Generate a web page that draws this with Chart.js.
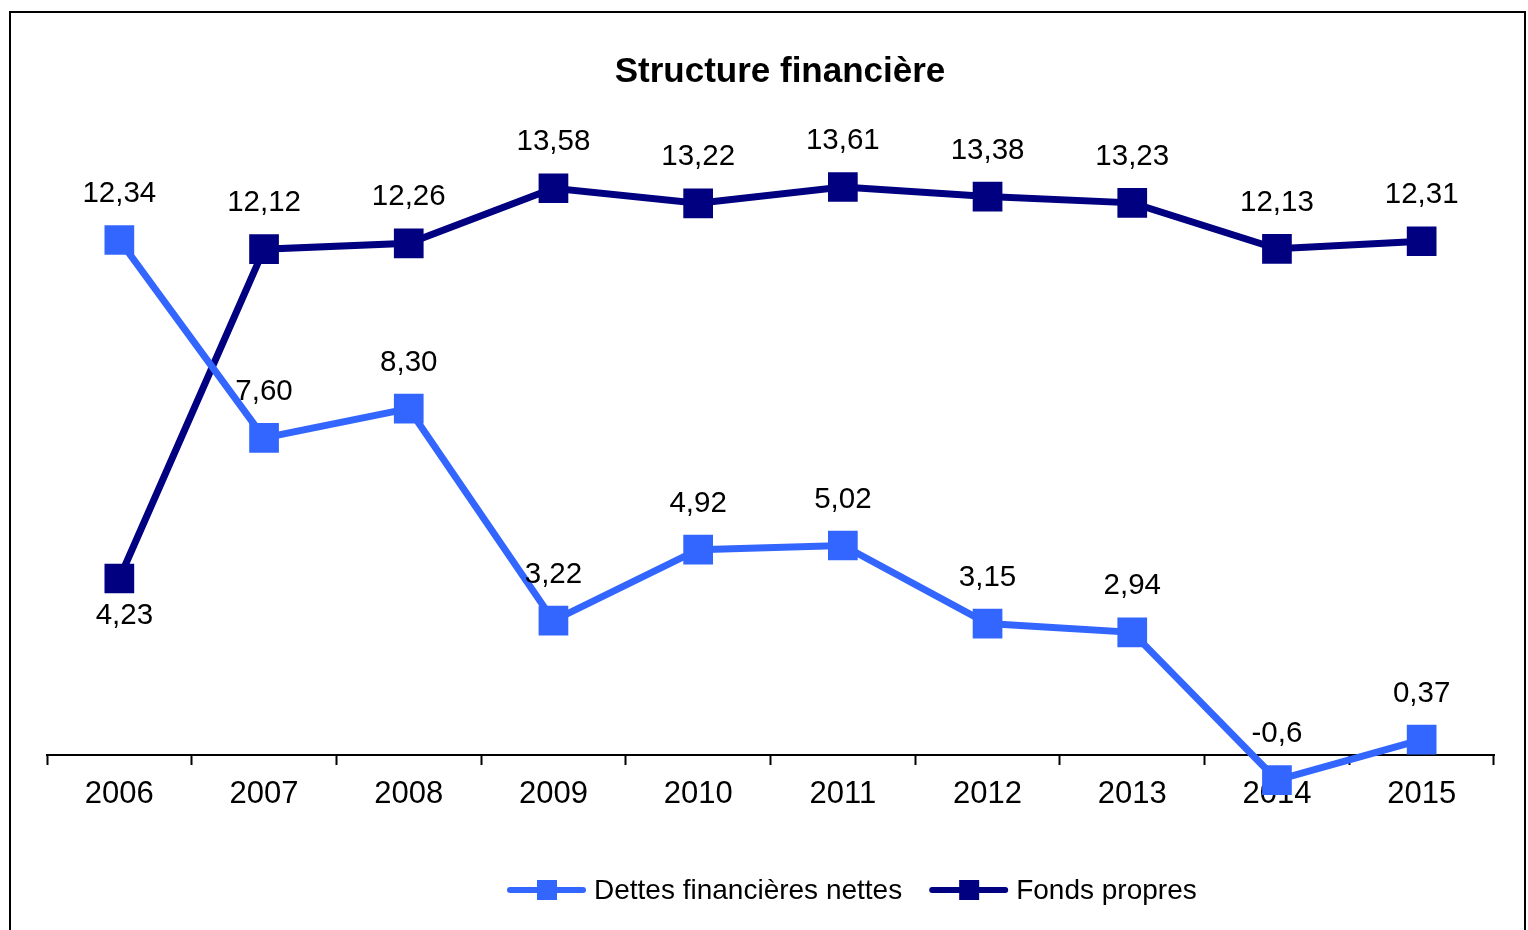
<!DOCTYPE html>
<html>
<head>
<meta charset="utf-8">
<script src="https://cdn.jsdelivr.net/npm/chart.js@4"></script>
<style>
  html, body { margin: 0; padding: 0; background: #fff; overflow: hidden; }
  #wrap { width: 1528px; height: 930px; }
</style>
</head>
<body>
<div id="wrap"><canvas id="chart" width="1528" height="930"></canvas></div>
<script>
const years = ['2006', '2007', '2008', '2009', '2010', '2011', '2012', '2013', '2014', '2015'];
const dettes = [12.34, 7.60, 8.30, 3.22, 4.92, 5.02, 3.15, 2.94, -0.6, 0.37];
const dettesLabels = ['12,34', '7,60', '8,30', '3,22', '4,92', '5,02', '3,15', '2,94', '-0,6', '0,37'];
const fonds = [4.23, 12.12, 12.26, 13.58, 13.22, 13.61, 13.38, 13.23, 12.13, 12.31];
const fondsLabels = ['4,23', '12,12', '12,26', '13,58', '13,22', '13,61', '13,38', '13,23', '12,13', '12,31'];

const FONT = '"Liberation Sans", Arial, Helvetica, sans-serif';
const LIGHT = '#3366FF';
const DARK = '#000080';

// data labels above the points (4,23 sits below)
const valueLabels = {
  id: 'valueLabels',
  afterDatasetsDraw(chart) {
    const ctx = chart.ctx;
    ctx.save();
    ctx.font = '29.5px ' + FONT;
    ctx.fillStyle = '#000';
    ctx.textAlign = 'center';
    ctx.textBaseline = 'middle';
    chart.data.datasets.forEach((ds, i) => {
      const meta = chart.getDatasetMeta(i);
      meta.data.forEach((pt, j) => {
        const below = ds.labelBelow && ds.labelBelow[j];
        const dx = below ? 5 : 0;
        const dy = below ? 37 : -46;
        ctx.fillText(ds.valueText[j], pt.x + dx, pt.y + dy);
      });
    });
    ctx.restore();
  }
};

// frame, title and the Excel style legend (line + square)
const decor = {
  id: 'decor',
  beforeDraw(chart) {
    const ctx = chart.ctx;
    ctx.save();
    ctx.strokeStyle = '#000';
    ctx.lineWidth = 2;
    ctx.strokeRect(10, 12, 1515, 940);
    ctx.restore();
  },
  afterDraw(chart) {
    const ctx = chart.ctx;
    ctx.save();
    ctx.fillStyle = '#000';
    ctx.textAlign = 'center';
    ctx.textBaseline = 'middle';
    ctx.font = 'bold 35px ' + FONT;
    ctx.fillText('Structure financière', 780, 72);

    ctx.font = '28px ' + FONT;
    ctx.textAlign = 'left';
    let x = 507;
    const y = 890;
    chart.data.datasets.forEach((ds) => {
      ctx.strokeStyle = ds.borderColor;
      ctx.lineWidth = 6;
      ctx.lineCap = 'round';
      ctx.beginPath();
      ctx.moveTo(x + 3, y);
      ctx.lineTo(x + 76, y);
      ctx.stroke();
      ctx.fillStyle = ds.borderColor;
      ctx.fillRect(x + 30, y - 10, 20, 20);
      ctx.fillStyle = '#000';
      ctx.fillText(ds.label, x + 87, y + 1);
      x += 87 + ctx.measureText(ds.label).width + 27;
    });
    ctx.restore();
  }
};

new Chart(document.getElementById('chart'), {
  type: 'line',
  data: {
    labels: years,
    datasets: [
      {
        label: 'Dettes financières nettes',
        data: dettes,
        valueText: dettesLabels,
        borderColor: LIGHT,
        backgroundColor: LIGHT,
        borderWidth: 7,
        pointStyle: 'rect',
        pointRadius: 21,
        pointBorderWidth: 0,
        tension: 0
      },
      {
        label: 'Fonds propres',
        data: fonds,
        valueText: fondsLabels,
        labelBelow: [true],
        borderColor: DARK,
        backgroundColor: DARK,
        borderWidth: 7,
        pointStyle: 'rect',
        pointRadius: 21,
        pointBorderWidth: 0,
        tension: 0
      }
    ]
  },
  options: {
    responsive: false,
    animation: false,
    devicePixelRatio: 1,
    layout: { padding: { left: 47, right: 34, top: 129, bottom: 91.5 } },
    plugins: {
      legend: { display: false },
      title: { display: false },
      tooltip: { enabled: false }
    },
    scales: {
      x: {
        position: { y: 0 },
        offset: true,
        grid: {
          offset: true,
          drawOnChartArea: false,
          drawTicks: true,
          tickLength: 9,
          tickColor: '#000',
          tickWidth: 2
        },
        border: { display: true, color: '#000', width: 2 },
        ticks: {
          color: '#000',
          font: { family: FONT, size: 31 },
          padding: 12,
          maxRotation: 0,
          autoSkip: false
        }
      },
      y: {
        display: false,
        min: -2,
        max: 15
      }
    }
  },
  plugins: [valueLabels, decor]
});
</script>
</body>
</html>
